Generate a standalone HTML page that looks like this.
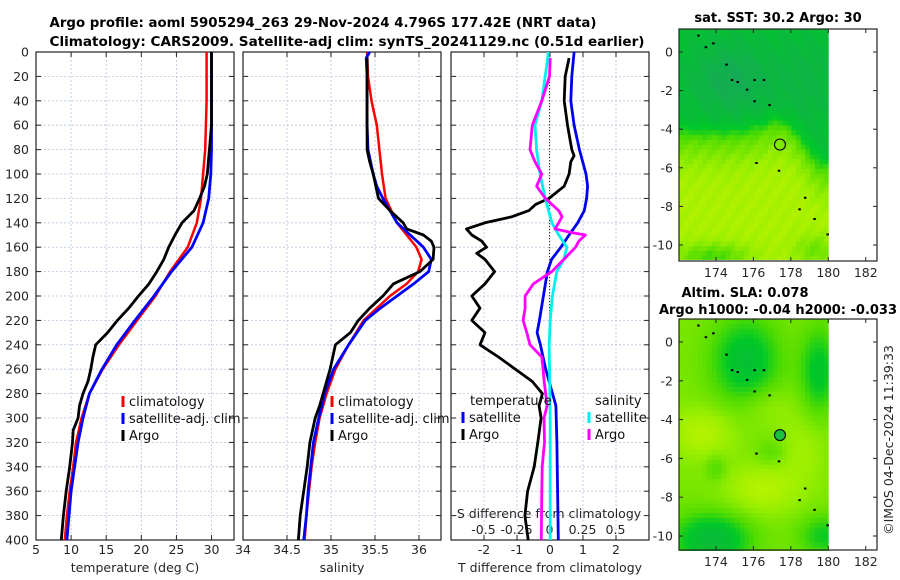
<!DOCTYPE html>
<html><head><meta charset="utf-8">
<style>
html,body{margin:0;padding:0;background:#fff;}
svg{display:block;font-family:"DejaVu Sans","Liberation Sans",sans-serif;}
.tk{font-size:12.5px;fill:#262626;}
.tt{font-size:13px;font-weight:bold;fill:#000;}
.lg{font-size:13px;fill:#111;}
</style></head>
<body>
<svg id="fig" width="900" height="580" viewBox="0 0 900 580">
<text class="tt" x="323" y="27" text-anchor="middle" textLength="547" lengthAdjust="spacingAndGlyphs">Argo profile: aoml 5905294_263 29-Nov-2024 4.796S 177.42E (NRT data)</text>
<text class="tt" x="347" y="46" text-anchor="middle" textLength="595" lengthAdjust="spacingAndGlyphs">Climatology: CARS2009. Satellite-adj clim: synTS_20241129.nc (0.51d earlier)</text>
<text class="tt" x="778" y="22" text-anchor="middle">sat. SST: 30.2 Argo: 30</text>
<text class="tt" x="745" y="297" text-anchor="middle">Altim. SLA: 0.078</text>
<text class="tt" x="778" y="314" text-anchor="middle">Argo h1000: -0.04 h2000: -0.033</text>
<text class="tk" x="0" y="0" transform="translate(893,440) rotate(-90)" text-anchor="middle">©IMOS 04-Dec-2024 11:39:33</text>
</svg>
<script>
// ---- data ----
const depths = [0,20,40,60,80,100,120,140,160,180,200,220,240,260,280,300,320,340,360,380,400];
const tempClim = [29.3,29.3,29.3,29.2,29.1,28.8,28.5,27.9,26.6,24.1,22.0,19.4,16.8,14.5,12.6,11.5,10.7,10.3,9.8,9.4,9.1];
const tempSat  = [30.0,30.0,30.0,30.0,30.0,29.9,29.6,28.8,27.2,24.3,21.8,19.1,16.5,14.4,12.6,11.7,11.0,10.5,10.0,9.7,9.4];
const argoDepths = [0,20,40,60,80,100,110,120,130,140,150,160,170,180,190,200,210,220,230,240,250,260,270,280,290,300,310,320,340,360,380,400];
const tempArgo = [30.0,30.0,30.0,30.0,29.7,29.4,29.0,28.3,27.5,25.8,24.8,23.9,23.2,22.2,21.1,19.6,18.2,16.6,15.2,13.5,13.1,12.8,12.4,11.7,11.2,11.0,10.3,10.2,9.8,9.3,8.9,8.6];
const salDepths = [0,20,40,60,80,100,120,140,150,160,170,180,190,200,210,220,240,260,280,300,320,340,360,380,400];
const salClim = [35.41,35.42,35.46,35.52,35.55,35.58,35.62,35.75,35.86,35.97,36.03,35.99,35.86,35.67,35.52,35.37,35.2,35.05,34.95,34.87,34.82,34.78,34.75,34.72,34.70];
const salSatDepths = [0,5,20,60,80,100,110,120,140,150,160,170,180,190,200,210,220,240,260,280,300,320,340,360,380,400];
const salSat = [35.44,35.40,35.41,35.41,35.42,35.48,35.52,35.59,35.75,35.9,36.05,36.14,36.11,35.94,35.75,35.56,35.39,35.2,35.03,34.93,34.86,34.80,34.77,34.74,34.72,34.69];
const salArgoDepths = [5,80,90,100,120,130,140,145,150,155,160,170,180,185,190,200,210,220,230,240,260,280,290,300,320,340,360,380,400];
const salArgo = [35.41,35.41,35.44,35.48,35.54,35.67,35.82,35.86,36.05,36.14,36.17,36.16,36.01,35.86,35.71,35.59,35.44,35.31,35.22,35.05,34.99,34.91,34.87,34.82,34.76,34.73,34.69,34.65,34.63];
const dTSatDepths = [0,20,40,60,80,100,110,120,130,140,150,160,170,180,200,220,230,240,260,290,320,360,400];
const dTSat = [0.73,0.66,0.63,0.73,0.89,1.09,1.14,1.11,1.04,0.84,0.58,0.33,0.05,-0.08,-0.2,-0.32,-0.39,-0.29,-0.13,0.18,0.21,0.23,0.25];
const dTArgoDepths = [5,20,40,60,80,85,90,100,110,120,125,130,135,140,145,150,155,160,165,170,180,190,200,210,220,230,240,250,260,270,280,290,300,320,340,360,380,400];
const dTArgo = [0.58,0.46,0.43,0.53,0.66,0.73,0.63,0.58,0.43,-0.03,-0.44,-0.64,-1.15,-1.97,-2.53,-2.37,-2.07,-1.92,-2.22,-1.97,-1.68,-1.97,-2.37,-2.12,-2.37,-1.97,-2.12,-1.56,-1.05,-0.54,-0.23,-0.33,-0.27,-0.37,-0.48,-0.68,-0.76,-0.66];
const dSSatDepths = [0,10,40,60,80,100,120,140,150,160,170,180,200,220,240,260,300,400];
const dSSat = [-0.008,-0.02,-0.058,-0.11,-0.098,-0.072,-0.032,0.018,0.07,0.132,0.108,0.055,0.022,0.005,-0.002,0,0.005,0.005];
const dSArgoDepths = [5,20,40,60,80,90,100,110,120,130,135,140,145,148,150,155,160,170,180,190,200,210,220,230,240,250,270,290,300,320,340,360,400];
const dSArgo = [0.005,0,-0.058,-0.13,-0.148,-0.11,-0.058,-0.098,-0.032,0.07,0.095,0.07,0.042,0.17,0.272,0.222,0.198,0.108,0.018,-0.122,-0.185,-0.185,-0.2,-0.172,-0.148,-0.058,-0.04,-0.018,-0.042,-0.038,-0.055,-0.058,-0.062];
const yTicks = [0,20,40,60,80,100,120,140,160,180,200,220,240,260,280,300,320,340,360,380,400];
const tTicks = [5,10,15,20,25,30];
const sTicks = [34,34.5,35,35.5,36];
const dTTicks = [-2,-1,0,1,2];
const dSTicks = [-0.5,-0.25,0,0.25,0.5];
const mapLonTicks = [174,176,178,180,182];
const mapLatTicks = [0,-2,-4,-6,-8,-10];

const NS='http://www.w3.org/2000/svg';
const svg=document.getElementById('fig');
function el(tag,attrs,parent){const e=document.createElementNS(NS,tag);for(const k in attrs)e.setAttribute(k,attrs[k]);(parent||svg).appendChild(e);return e;}
const Y0=52,Y1=540;
const yS=d=>Y0+(Y1-Y0)*d/400;

const panels=[
 {name:'temperature',x0:36,x1:234,d0:5,d1:33.2,ticks:tTicks,lab:'temperature (deg C)'},
 {name:'salinity',x0:243,x1:441,d0:34,d1:36.25,ticks:sTicks,lab:'salinity'},
 {name:'difference',x0:451,x1:649,d0:-3,d1:3,ticks:dTTicks,lab:'T difference from climatology'}
];
panels.forEach(p=>{p.xs=v=>p.x0+(p.x1-p.x0)*(v-p.d0)/(p.d1-p.d0);});
const sxS=v=>549.5+v*132;

panels.forEach((p,i)=>{
  const g=el('g',{});
  
  
  yTicks.forEach(d=>{
    const l=el('line',{x1:p.x0,x2:p.x1,y1:yS(d),y2:yS(d),stroke:'#b8c4e0','stroke-width':0.8,'stroke-dasharray':'2,2'},g);
    
    
    el('line',{x1:p.x0,x2:p.x0+5,y1:yS(d),y2:yS(d),stroke:'#222'},g);
    el('line',{x1:p.x1-5,x2:p.x1,y1:yS(d),y2:yS(d),stroke:'#222'},g);
  });
  p.ticks.forEach(v=>{
    const x=p.xs(v);
    const l=el('line',{x1:x,x2:x,y1:Y0,y2:Y1,stroke:'#b8c4e0','stroke-width':0.8,'stroke-dasharray':'2,2'},g);
    
    
    el('line',{x1:x,x2:x,y1:Y1,y2:Y1-5,stroke:'#222'},g);
    el('line',{x1:x,x2:x,y1:Y0,y2:Y0+5,stroke:'#222'},g);
    const t=el('text',{x:x,y:554,'text-anchor':'middle',class:'tk'},g);
    t.textContent=String(v);
    
    
  });
  const r=el('rect',{x:p.x0,y:Y0,width:p.x1-p.x0,height:Y1-Y0,fill:'none',stroke:'#222','stroke-width':1.2},g);
  
  
  const t=el('text',{x:(p.x0+p.x1)/2,y:572,'text-anchor':'middle',class:'tk'},g);
  t.textContent=p.lab;
  
  
});
yTicks.forEach(d=>{
  const t=el('text',{x:29,y:yS(d)+4.5,'text-anchor':'end',class:'tk'});
  t.textContent=String(d);
  
  
});
dSTicks.forEach(v=>{
  const t=el('text',{x:sxS(v),y:534,'text-anchor':'middle',class:'tk'});
  t.textContent=String(v);
  
  
});
{const t=el('text',{x:549,y:518,'text-anchor':'middle',class:'tk'});t.textContent='S difference from climatology';

}
{const l=el('line',{x1:549.5,x2:549.5,y1:Y0,y2:Y1,stroke:'#3a3020','stroke-width':1,'stroke-dasharray':'1.2,1.8'});

}

function curve(xsF,vals,ds,color,w,name){
  const pts=vals.map((v,i)=>xsF(v).toFixed(1)+','+yS(ds[i]).toFixed(1)).join(' ');
  const l=el('polyline',{points:pts,fill:'none',stroke:color,'stroke-width':w,'stroke-linejoin':'round'});
  
  
}
const P=panels;
curve(P[0].xs,tempClim,depths,'#ff0000',2.5,'temp-climatology-line');
curve(P[0].xs,tempSat,depths,'#0000ff',2.8,'temp-satellite-line');
curve(P[0].xs,tempArgo,argoDepths,'#000',2.8,'temp-argo-line');
curve(P[1].xs,salClim,salDepths,'#ff0000',2.5,'sal-climatology-line');
curve(P[1].xs,salSat,salSatDepths,'#0000ff',2.8,'sal-satellite-line');
curve(P[1].xs,salArgo,salArgoDepths,'#000',2.8,'sal-argo-line');
curve(P[2].xs,dTSat,dTSatDepths,'#0000ee',2.8,'tdiff-satellite-line');
curve(P[2].xs,dTArgo,dTArgoDepths,'#000',2.8,'tdiff-argo-line');
curve(sxS,dSSat,dSSatDepths,'#00f0f0',2.8,'sdiff-satellite-line');
curve(sxS,dSArgo,dSArgoDepths,'#ff00ff',2.8,'sdiff-argo-line');

function legend(x,y,color,label,name){
  const m=el('rect',{x:x-1.5,y:y-10,width:3,height:11,fill:color});
  
  
  const t=el('text',{x:x+6,y:y,class:'lg'});
  t.textContent=label;
  
  
}
legend(123,406,'#ff0000','climatology','temp-legend-climatology');
legend(123,423,'#0000ff','satellite-adj. clim','temp-legend-satellite');
legend(123,440,'#000','Argo','temp-legend-argo');
legend(332,406,'#ff0000','climatology','sal-legend-climatology');
legend(332,423,'#0000ff','satellite-adj. clim','sal-legend-satellite');
legend(332,440,'#000','Argo','sal-legend-argo');
{const t=el('text',{x:470,y:405,class:'lg'});t.textContent='temperature';


const t2=el('text',{x:595,y:405,class:'lg'});t2.textContent='salinity';

}
legend(463,422,'#0000ff','satellite','diff-legend-t-satellite');
legend(463,439,'#000','Argo','diff-legend-t-argo');
legend(589,422,'#00f0f0','satellite','diff-legend-s-satellite');
legend(589,439,'#ff00ff','Argo','diff-legend-s-argo');

// ---- maps ----
const MX0=679,MX1=877,lon0=172.03,lon1=182.6;
const mlx=l=>MX0+(MX1-MX0)*(l-lon0)/(lon1-lon0);
function lerpC(stops,v){v=Math.max(0,Math.min(1,v));for(let i=1;i<stops.length;i++){if(v<=stops[i][0]){const a=stops[i-1],b=stops[i];const t=(v-a[0])/(b[0]-a[0]);return 'rgb('+[1,2,3].map(k=>Math.round(a[k]+(b[k]-a[k])*t)).join(',')+')';}}const s=stops[stops.length-1];return 'rgb('+s[1]+','+s[2]+','+s[3]+')';}
const stops=[[0,25,165,95],[0.3,10,185,60],[0.45,0,200,40],[0.6,80,220,0],[0.8,150,238,0],[1,200,245,0]];
const g2=(x,y,cx,cy,sx,sy)=>Math.exp(-((x-cx)**2/(2*sx*sx)+(y-cy)**2/(2*sy*sy)));
function sstField(lon,lat){
  const b=-4.2+0.7*g2(lon,0,177.6,0,1.0,1)-1.8*g2(lon,0,179.8,0,1.0,1);
  const upper=0.36-0.25*g2(lon,lat,174.8,-1.4,1.4,1.3)-0.12*g2(lon,lat,178.8,-1.5,1.3,1.5)+0.03*Math.sin(lon*5+lat*3);
  const lower=0.78+0.1*Math.tanh((b-lat-1.5))+0.03*Math.sin(lon*7-lat*5);
  const s=0.5+0.5*Math.tanh((b-lat)*1.6);
  let v=upper*(1-s)+lower*s;
  v-=0.3*g2(lon,lat,173.8,-10.6,1.4,0.5);
  v-=0.2*g2(lon,lat,179.3,-10.3,0.8,0.6);
  return v;
}
function slaField(lon,lat){
  let v=0.72;
  v-=0.35*g2(lon,lat,175.6,-1,1.3,1.6);
  v-=0.3*g2(lon,lat,179.5,-1.5,0.7,1.6);
  v-=0.4*g2(lon,lat,173.8,-10.2,1.5,1);
  v-=0.25*g2(lon,lat,179.8,-10,1,0.8);
  v+=0.2*g2(lon,lat,173.3,-4.7,1.2,0.9);
  v+=0.2*g2(lon,lat,176.5,-7.6,1.4,0.9);
  v+=0.12*g2(lon,lat,178.6,-5.5,0.9,1.2);
  v+=0.1*g2(lon,lat,176.8,-3.3,1.0,0.8);
  v-=0.15*g2(lon,lat,174,-6.5,0.4,0.5);
  v-=0.12*g2(lon,lat,177,-5.7,0.6,0.5);
  return v;
}
function map(name,top,bot,yz,yten,field,fillDot){
  const g=el('g',{});
  
  
  const mly=l=>yz+(yten-yz)*(-l)/10;
  const latTop=-(top-yz)/((yten-yz)/10), latBot=-10.75;
  const step=0.25;
  for(let lon=lon0;lon<180;lon+=step){
    for(let lat=latTop;lat>latBot;lat-=step){
      const x=mlx(lon),y=mly(lat),w=mlx(Math.min(lon+step,180))-x,h=mly(Math.max(lat-step,latBot))-y;
      el('rect',{x:x.toFixed(1),y:y.toFixed(1),width:(w+0.4).toFixed(1),height:(h+0.4).toFixed(1),fill:lerpC(stops,field(lon+step/2,lat-step/2))},g);
    }
  }
  [[173,0.9],[173.4,0.3],[173.8,0.5],[174.5,-0.6],[174.8,-1.4],[175.1,-1.5],[175.6,-1.9],[176,-1.4],[176.5,-1.4],[176,-2.5],[176.8,-2.7],[176.1,-5.7],[177.3,-6.1],[178.7,-7.5],[178.4,-8.1],[179.2,-8.6],[179.9,-9.4]].forEach(p=>{
    el('rect',{x:mlx(p[0]),y:mly(p[1]),width:2.5,height:2,fill:'#000'},g);
  });
  const c=el('circle',{cx:mlx(177.42),cy:mly(-4.796),r:5.5,fill:fillDot,stroke:'#111','stroke-width':1.2},g);
  
  
  const fr=el('rect',{x:MX0,y:top,width:MX1-MX0,height:bot-top,fill:'none',stroke:'#222','stroke-width':1.2},g);
  
  
  mapLonTicks.forEach(l=>{
    const x=mlx(l);
    el('line',{x1:x,x2:x,y1:bot,y2:bot-4,stroke:'#222'},g);
    el('line',{x1:x,x2:x,y1:top,y2:top+4,stroke:'#222'},g);
    const t=el('text',{x:x,y:bot+16,'text-anchor':'middle',class:'tk'},g);
    t.textContent=String(l);
    
    
  });
  mapLatTicks.forEach(l=>{
    const y=mly(l);
    el('line',{x1:MX0,x2:MX0+4,y1:y,y2:y,stroke:'#222'},g);
    el('line',{x1:MX1,x2:MX1-4,y1:y,y2:y,stroke:'#222'},g);
    const t=el('text',{x:MX0-6,y:y+4.5,'text-anchor':'end',class:'tk'},g);
    t.textContent=String(l);
    
    
  });
}
map('sst-map',29,261,52,245,sstField,'none');
map('sla-map',319,550,342,536,slaField,'#1cc040');
</script>
</body></html>
